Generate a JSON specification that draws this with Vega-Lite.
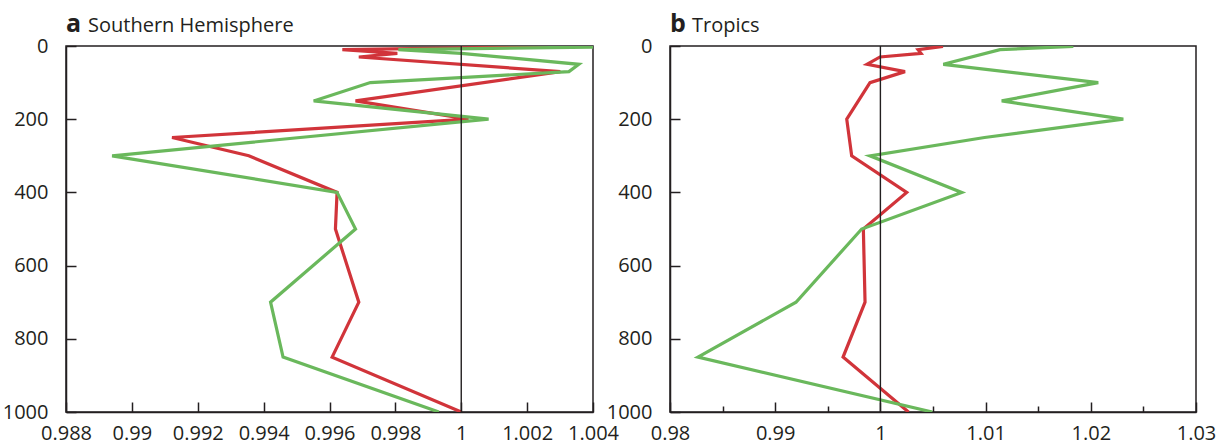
{
  "$schema": "https://vega.github.io/schema/vega-lite/v6.json",
  "padding": {"left": 1, "top": 11, "right": 5, "bottom": 0},
  "background": "white",
  "config": {
    "font": "Open Sans",
    "view": {"stroke": "#231f20", "strokeWidth": 1.5},
    "axis": {
      "grid": false,
      "title": null,
      "domainColor": "#231f20",
      "domainWidth": 1.5,
      "tickColor": "#231f20",
      "tickWidth": 1.5,
      "labelColor": "#231f20",
      "labelFont": "Open Sans",
      "labelFontSize": 20,
      "labelFlush": false,
      "labelOverlap": false
    }
  },
  "datasets": {
    "sh": [
      {"p": 1, "ratio": 1.00317, "s": "red"},
      {"p": 10, "ratio": 0.99639, "s": "red"},
      {"p": 20, "ratio": 0.99806, "s": "red"},
      {"p": 30, "ratio": 0.99689, "s": "red"},
      {"p": 70, "ratio": 1.00301, "s": "red"},
      {"p": 150, "ratio": 0.99679, "s": "red"},
      {"p": 200, "ratio": 1.00022, "s": "red"},
      {"p": 250, "ratio": 0.99122, "s": "red"},
      {"p": 300, "ratio": 0.99355, "s": "red"},
      {"p": 400, "ratio": 0.99623, "s": "red"},
      {"p": 500, "ratio": 0.99618, "s": "red"},
      {"p": 700, "ratio": 0.99689, "s": "red"},
      {"p": 850, "ratio": 0.99608, "s": "red"},
      {"p": 1000, "ratio": 1.0, "s": "red"},
      {"p": 1, "ratio": 1.0055, "s": "green"},
      {"p": 10, "ratio": 0.99809, "s": "green"},
      {"p": 20, "ratio": 1.0, "s": "green"},
      {"p": 50, "ratio": 1.00357, "s": "green"},
      {"p": 70, "ratio": 1.00327, "s": "green"},
      {"p": 100, "ratio": 0.99724, "s": "green"},
      {"p": 150, "ratio": 0.99552, "s": "green"},
      {"p": 200, "ratio": 1.00083, "s": "green"},
      {"p": 300, "ratio": 0.9894, "s": "green"},
      {"p": 400, "ratio": 0.99623, "s": "green"},
      {"p": 500, "ratio": 0.99679, "s": "green"},
      {"p": 700, "ratio": 0.99421, "s": "green"},
      {"p": 850, "ratio": 0.99459, "s": "green"},
      {"p": 1000, "ratio": 0.99932, "s": "green"}
    ],
    "tr": [
      {"p": 1, "ratio": 1.00595, "s": "red"},
      {"p": 10, "ratio": 1.00358, "s": "red"},
      {"p": 20, "ratio": 1.00386, "s": "red"},
      {"p": 30, "ratio": 0.99996, "s": "red"},
      {"p": 50, "ratio": 0.99873, "s": "red"},
      {"p": 70, "ratio": 1.00234, "s": "red"},
      {"p": 100, "ratio": 0.99901, "s": "red"},
      {"p": 200, "ratio": 0.9968, "s": "red"},
      {"p": 300, "ratio": 0.99727, "s": "red"},
      {"p": 400, "ratio": 1.0025, "s": "red"},
      {"p": 500, "ratio": 0.99838, "s": "red"},
      {"p": 700, "ratio": 0.99854, "s": "red"},
      {"p": 850, "ratio": 0.99645, "s": "red"},
      {"p": 1000, "ratio": 1.00267, "s": "red"},
      {"p": 1, "ratio": 1.01834, "s": "green"},
      {"p": 10, "ratio": 1.01137, "s": "green"},
      {"p": 50, "ratio": 1.00598, "s": "green"},
      {"p": 100, "ratio": 1.02071, "s": "green"},
      {"p": 150, "ratio": 1.01153, "s": "green"},
      {"p": 200, "ratio": 1.02309, "s": "green"},
      {"p": 250, "ratio": 1.0099, "s": "green"},
      {"p": 300, "ratio": 0.99901, "s": "green"},
      {"p": 400, "ratio": 1.00773, "s": "green"},
      {"p": 500, "ratio": 0.99822, "s": "green"},
      {"p": 700, "ratio": 0.99198, "s": "green"},
      {"p": 850, "ratio": 0.98266, "s": "green"},
      {"p": 1000, "ratio": 1.00493, "s": "green"}
    ]
  },
  "bounds": "flush",
  "spacing": 77,
  "hconcat": [
    {
      "width": 527,
      "height": 366,
      "layer": [
        {
          "data": {"name": "sh"},
          "mark": {"type": "line", "strokeWidth": 3.2, "clip": true},
          "encoding": {
            "x": {
              "field": "ratio", "type": "quantitative",
              "scale": {"domain": [0.988, 1.004], "nice": false, "zero": false},
              "axis": {
                "values": [0.988, 0.989, 0.99, 0.991, 0.992, 0.993, 0.994, 0.995, 0.996, 0.997, 0.998, 0.999, 1, 1.001, 1.002, 1.003, 1.004],
                "labelExpr": "round(datum.value*1000) % 2 == 0 ? format(datum.value, '~g') : ''",
                "tickSize": {"condition": {"test": "round(datum.value*1000) % 2 == 0", "value": -10}, "value": -6},
                "labelPadding": 21
              }
            },
            "y": {
              "field": "p", "type": "quantitative",
              "scale": {"domain": [0, 1000], "reverse": true, "nice": false, "zero": false},
              "axis": {
                "values": [0, 100, 200, 300, 400, 500, 600, 700, 800, 900, 1000],
                "labelExpr": "datum.value % 200 == 0 ? '' + datum.value : ''",
                "tickSize": {"condition": {"test": "datum.value % 200 == 0", "value": -10}, "value": -6},
                "labelPadding": 28
              }
            },
            "color": {"field": "s", "type": "nominal", "scale": {"domain": ["red", "green"], "range": ["#d1343a", "#6ab85c"]}, "legend": null},
            "order": {"field": "p", "type": "quantitative"}
          }
        },
        {
          "data": {"values": [{"ratio": 1}]},
          "mark": {"type": "rule", "color": "#231f20", "strokeWidth": 1.4},
          "encoding": {"x": {"field": "ratio", "type": "quantitative"}}
        },
        {
          "data": {"values": [{"panel": "a", "name": "Southern Hemisphere", "ratio": 0.988, "p": 0}]},
          "mark": {"type": "text", "fontSize": 25, "fontWeight": "bold", "align": "left", "baseline": "alphabetic", "dy": -14, "color": "#231f20", "font": "Open Sans"},
          "encoding": {
            "x": {"field": "ratio", "type": "quantitative"},
            "y": {"field": "p", "type": "quantitative"},
            "text": {"field": "panel"}
          }
        },
        {
          "data": {"values": [{"panel": "a", "name": "Southern Hemisphere", "ratio": 0.988, "p": 0}]},
          "mark": {"type": "text", "fontSize": 20, "fontWeight": "normal", "align": "left", "baseline": "alphabetic", "dx": 22, "dy": -14, "color": "#231f20", "font": "Open Sans"},
          "encoding": {
            "x": {"field": "ratio", "type": "quantitative"},
            "y": {"field": "p", "type": "quantitative"},
            "text": {"field": "name"}
          }
        }
      ]
    },
    {
      "width": 526,
      "height": 366,
      "layer": [
        {
          "data": {"name": "tr"},
          "mark": {"type": "line", "strokeWidth": 3.2, "clip": true},
          "encoding": {
            "x": {
              "field": "ratio", "type": "quantitative",
              "scale": {"domain": [0.98, 1.03], "nice": false, "zero": false},
              "axis": {
                "values": [0.98, 0.985, 0.99, 0.995, 1, 1.005, 1.01, 1.015, 1.02, 1.025, 1.03],
                "labelExpr": "round(datum.value*1000) % 10 == 0 ? format(datum.value, '~g') : ''",
                "tickSize": {"condition": {"test": "round(datum.value*1000) % 10 == 0", "value": -10}, "value": -6},
                "labelPadding": 21
              }
            },
            "y": {
              "field": "p", "type": "quantitative",
              "scale": {"domain": [0, 1000], "reverse": true, "nice": false, "zero": false},
              "axis": {
                "values": [0, 100, 200, 300, 400, 500, 600, 700, 800, 900, 1000],
                "labelExpr": "datum.value % 200 == 0 ? '' + datum.value : ''",
                "tickSize": {"condition": {"test": "datum.value % 200 == 0", "value": -10}, "value": -6},
                "labelPadding": 28
              }
            },
            "color": {"field": "s", "type": "nominal", "scale": {"domain": ["red", "green"], "range": ["#d1343a", "#6ab85c"]}, "legend": null},
            "order": {"field": "p", "type": "quantitative"}
          }
        },
        {
          "data": {"values": [{"ratio": 1}]},
          "mark": {"type": "rule", "color": "#231f20", "strokeWidth": 1.4},
          "encoding": {"x": {"field": "ratio", "type": "quantitative"}}
        },
        {
          "data": {"values": [{"panel": "b", "name": "Tropics", "ratio": 0.98, "p": 0}]},
          "mark": {"type": "text", "fontSize": 25, "fontWeight": "bold", "align": "left", "baseline": "alphabetic", "dy": -14, "color": "#231f20", "font": "Open Sans"},
          "encoding": {
            "x": {"field": "ratio", "type": "quantitative"},
            "y": {"field": "p", "type": "quantitative"},
            "text": {"field": "panel"}
          }
        },
        {
          "data": {"values": [{"panel": "b", "name": "Tropics", "ratio": 0.98, "p": 0}]},
          "mark": {"type": "text", "fontSize": 20, "fontWeight": "normal", "align": "left", "baseline": "alphabetic", "dx": 22, "dy": -14, "color": "#231f20", "font": "Open Sans"},
          "encoding": {
            "x": {"field": "ratio", "type": "quantitative"},
            "y": {"field": "p", "type": "quantitative"},
            "text": {"field": "name"}
          }
        }
      ]
    }
  ]
}
